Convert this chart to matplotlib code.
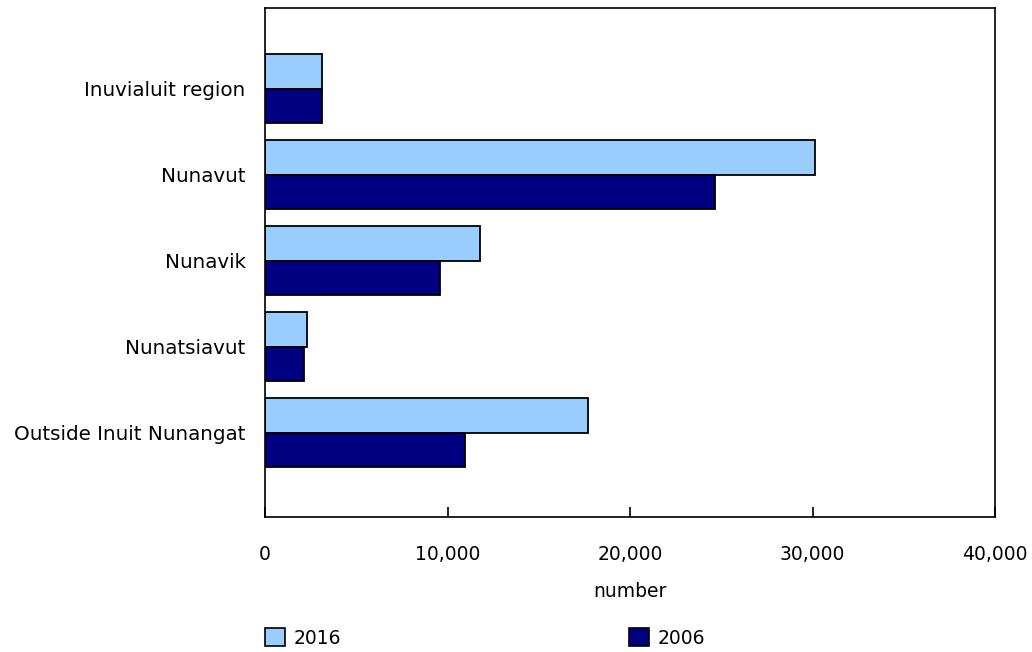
import matplotlib
matplotlib.use("Agg")
import matplotlib.pyplot as plt
import numpy as np
from matplotlib.patches import Patch
from matplotlib.ticker import FuncFormatter

categories = ["Inuvialuit region", "Nunavut", "Nunavik", "Nunatsiavut", "Outside Inuit Nunangat"]
values_2016 = [3110, 30140, 11800, 2285, 17690]
values_2006 = [3115, 24635, 9565, 2160, 10950]
series_labels = ["2016", "2006"]
xticks = [0, 10000, 20000, 30000, 40000]

c2016 = "#99CCFF"
c2006 = "#000080"

plt.rcParams['font.family'] = ['DejaVu Sans']
fs = 13.5

fig = plt.figure(figsize=(10.32, 6.52), dpi=100)
ax = fig.add_axes([265/1032, 1-517/652, (995-265)/1032, (517-8)/652])

y = np.arange(len(categories))
h = 0.4
ax.barh(y - h/2, values_2016, height=h, color=c2016, edgecolor="black", linewidth=1.3)
ax.barh(y + h/2, values_2006, height=h, color=c2006, edgecolor="black", linewidth=1.3)

ax.set_xlim(0, 40000)
ax.set_ylim(4.98, -0.94)
ax.set_yticks(y)
ax.set_yticklabels(categories, fontsize=14.3)
ax.tick_params(axis='y', length=0, pad=14)
ax.set_xticks(xticks)
ax.xaxis.set_major_formatter(FuncFormatter(lambda v, p: f"{int(v):,}"))
ax.tick_params(axis='x', direction='in', length=7, width=1.2, labelsize=fs, pad=20)
for s in ax.spines.values():
    s.set_linewidth(1.2)
    s.set_color("black")
ax.set_xlabel("number", fontsize=fs, labelpad=13)

fs_px = fs * 100 / 72
hl = 20 / fs_px
handles = [Patch(facecolor=c2016, edgecolor="black", linewidth=1.2),
           Patch(facecolor=c2006, edgecolor="black", linewidth=1.2)]
for hd, lab, x0 in zip(handles, series_labels, [265, 629]):
    fig.legend([hd], [lab], loc='center left', bbox_to_anchor=(x0/1032, 1-638/652),
               frameon=False, fontsize=fs, handlelength=hl, handleheight=hl,
               handletextpad=9/fs_px, borderaxespad=0, borderpad=0)

fig.savefig("out.png", dpi=100)
